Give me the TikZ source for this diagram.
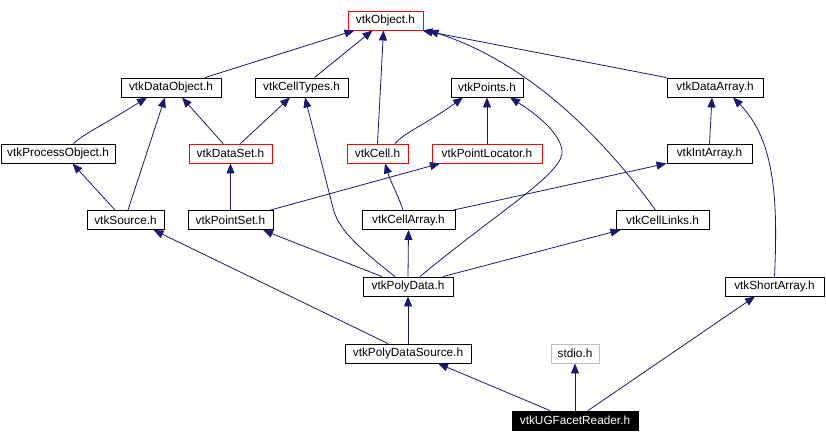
\documentclass[tikz,border=0pt]{standalone}
\usepackage{fontspec}
\setmainfont{Liberation Sans}
\usetikzlibrary{arrows.meta}
\definecolor{edgeblue}{RGB}{25,25,112}
\begin{document}
\begin{tikzpicture}[x=1pt,y=-1pt,
  box/.style={draw=black, line width=0.9pt, fill=white, inner sep=0pt, minimum height=19pt, font=\fontsize{11.8}{13}\selectfont},
  redbox/.style={box, draw=red},
  graybox/.style={box, draw=black!25},
  curbox/.style={box, fill=black, text=white},
  dep/.style={draw=edgeblue, line width=0.8pt, -{Triangle[length=10pt,width=8pt]}}]
\useasboundingbox (0,0) rectangle (826,442);
% nodes
\node[redbox, minimum width=75pt] (obj) at (385.5,20.5) {vtkObject.h};
\node[box, minimum width=100pt] (dobj) at (171,87.5) {vtkDataObject.h};
\node[box, minimum width=93pt] (ct) at (301.5,87.5) {vtkCellTypes.h};
\node[box, minimum width=72pt] (pts) at (487,87.5) {vtkPoints.h};
\node[box, minimum width=96pt] (da) at (715,87.5) {vtkDataArray.h};
\node[box, minimum width=114pt] (po) at (58,153.5) {vtkProcessObject.h};
\node[redbox, minimum width=83pt] (ds) at (230.5,153.5) {vtkDataSet.h};
\node[redbox, minimum width=61pt] (cell) at (377.5,153.5) {vtkCell.h};
\node[redbox, minimum width=110pt] (pl) at (487,153.5) {vtkPointLocator.h};
\node[box, minimum width=85pt] (ia) at (709.5,153.5) {vtkIntArray.h};
\node[box, minimum width=77pt] (src) at (125.5,220) {vtkSource.h};
\node[box, minimum width=85pt] (ps) at (230.5,220) {vtkPointSet.h};
\node[box, minimum width=93pt] (ca) at (408.5,220) {vtkCellArray.h};
\node[box, minimum width=93pt] (cl) at (662.5,220) {vtkCellLinks.h};
\node[box, minimum width=90pt] (pd) at (408,286.5) {vtkPolyData.h};
\node[box, minimum width=99pt] (sa) at (774.5,286.5) {vtkShortArray.h};
\node[box, minimum width=126pt] (pds) at (408,353.5) {vtkPolyDataSource.h};
\node[graybox, minimum width=48pt] (stdio) at (575,353.5) {stdio.h};
\node[curbox, minimum width=126pt] (ug) at (575,420.5) {vtkUGFacetReader.h};
% edges
\draw[dep] ([xshift=34]dobj.north) -- ([xshift=-31]obj.south);
\draw[dep] ([xshift=13]ct.north) -- ([xshift=-13]obj.south);
\draw[dep] (cell.north) -- ([xshift=-2]obj.south);
\draw[dep] ([xshift=-7]cl.north) .. controls (590,120) and (515,58) .. ([xshift=5]obj.south east);
\draw[dep] (da.north west) -- ([xshift=-1]obj.south east);
\draw[dep] ([xshift=15.5]po.north) .. controls (85,133) and (100,127) .. ([xshift=-24]dobj.south);
\draw[dep] ([xshift=2.5]src.north) -- ([xshift=-6]dobj.south);
\draw[dep] ([xshift=-7.5]ds.north) -- ([xshift=11]dobj.south);
\draw[dep] ([xshift=10]ds.north) -- ([xshift=-11.5]ct.south);
\draw[dep] (ps.north) -- (ds.south);
\draw[dep] ([xshift=-10.5]src.north) -- ([xshift=14.5]po.south);
\draw[dep] ([xshift=17.5]cell.north) .. controls (405,132) and (425,125) .. ([xshift=-24]pts.south);
\draw[dep] (pl.north) -- (pts.south);
\draw[dep] ([xshift=12]pd.north) .. controls (500,210) and (566,172) .. (562,150) .. controls (559,130) and (530,110) .. ([xshift=23]pts.south);
\draw[dep] ([xshift=-3]ps.north east) -- ([xshift=-47]pl.south);
\draw[dep] ([xshift=-5.5]ca.north) .. controls (398,195) and (390,180) .. ([xshift=7.5]cell.south);
\draw[dep] ([xshift=-2]ca.north east) -- (ia.south west);
\draw[dep] (ia.north) -- ([xshift=-3]da.south);
\draw[dep] (sa.north) .. controls (778,200) and (775,140) .. ([xshift=18]da.south);
\draw[dep] ([xshift=-26]pd.north) .. controls (340,260) and (300,245) .. ([xshift=32.5]ps.south);
\draw[dep] ([xshift=-13]pd.north) .. controls (355,245) and (338,228) .. (333,208) -- ([xshift=3.5]ct.south);
\draw[dep] (pd.north) -- (ca.south);
\draw[dep] ([xshift=35]pd.north) -- ([xshift=-42]cl.south);
\draw[dep] ([xshift=-20]pds.north) -- ([xshift=28]src.south);
\draw[dep] (pds.north) -- (pd.south);
\draw[dep] ([xshift=-25]ug.north) -- ([xshift=30]pds.south);
\draw[dep] (ug.north) -- (stdio.south);
\draw[dep] ([xshift=13]ug.north) -- ([xshift=-19.5]sa.south);
\end{tikzpicture}
\end{document}
